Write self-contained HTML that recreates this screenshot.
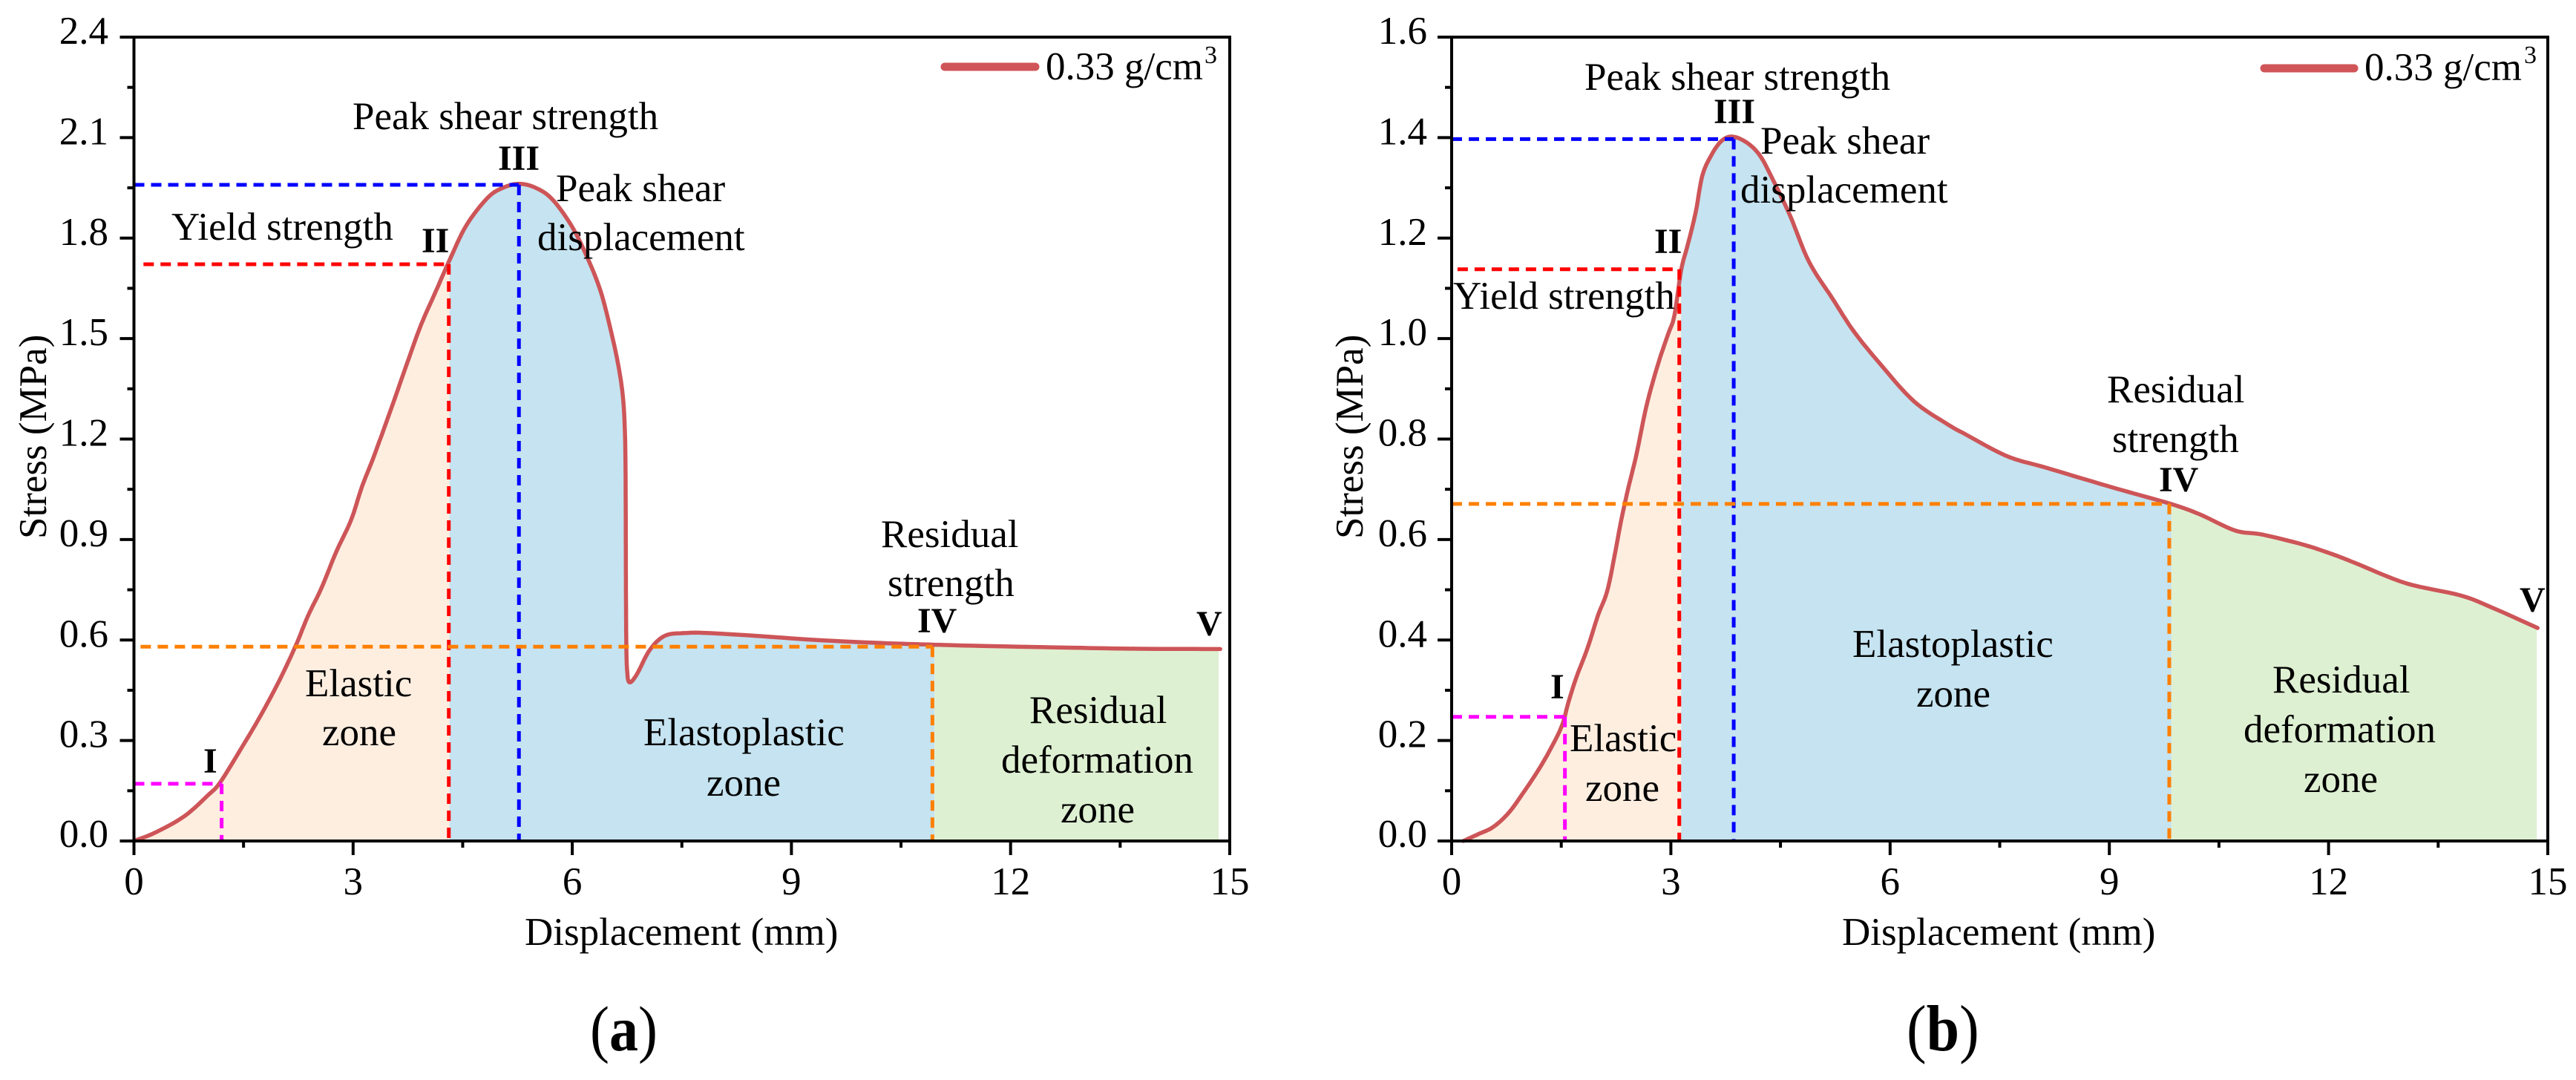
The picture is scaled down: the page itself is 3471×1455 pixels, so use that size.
<!DOCTYPE html>
<html lang="en">
<head>
<meta charset="utf-8">
<title>Stress-displacement curves</title>
<style>
html,body{margin:0;padding:0;background:#fff;}
svg{display:block;}
text{font-family:"Liberation Serif","Times New Roman",serif;fill:#000;font-size:53px;}
.num{font-weight:bold;font-size:48px;}
.sup{font-size:34px;}
</style>
</head>
<body>
<svg id="figure" width="3471" height="1455" viewBox="0 0 3471 1455">
<rect x="0" y="0" width="3471" height="1455" fill="#ffffff"/>
<g id="marks-a"></g>
<g id="marks-b"></g>

<g>
<text transform="translate(62,726) rotate(-90)">Stress (MPa)</text>
<text x="707" y="1273">Displacement (mm)</text>
<text x="475" y="174">Peak shear strength</text>
<text class="num" x="671" y="229">III</text>
<text x="749" y="271">Peak shear</text>
<text x="724" y="337">displacement</text>
<text x="231" y="323">Yield strength</text>
<text class="num" x="568" y="340">II</text>
<text class="num" x="274" y="1041">I</text>
<text x="411" y="938">Elastic</text>
<text x="434" y="1004">zone</text>
<text x="867" y="1004">Elastoplastic</text>
<text x="952" y="1072">zone</text>
<text x="1387" y="974">Residual</text>
<text x="1349" y="1041">deformation</text>
<text x="1429" y="1108">zone</text>
<text x="1187" y="737">Residual</text>
<text x="1196" y="803">strength</text>
<text class="num" x="1236" y="852">IV</text>
<text class="num" x="1612" y="856">V</text>
<line x1="1273" y1="90" x2="1395" y2="90" stroke="#d05558" stroke-width="11" stroke-linecap="round"/>
<text x="1409" y="107">0.33 g/cm</text>
<text class="sup" x="1623" y="85">3</text>
<text transform="translate(795,1415) scale(1,1.1)" style="font-size:78px">(<tspan font-weight="bold">a</tspan>)</text>
</g>

<g>
<text transform="translate(1836,726) rotate(-90)">Stress (MPa)</text>
<text x="2482" y="1273">Displacement (mm)</text>
<text x="2135" y="121">Peak shear strength</text>
<text class="num" x="2309" y="166">III</text>
<text x="2372" y="207">Peak shear</text>
<text x="2345" y="273">displacement</text>
<text class="num" x="2229" y="341">II</text>
<text x="1958" y="416">Yield strength</text>
<text class="num" x="2089" y="941">I</text>
<text x="2115" y="1012">Elastic</text>
<text x="2136" y="1079">zone</text>
<text x="2496" y="885">Elastoplastic</text>
<text x="2582" y="952">zone</text>
<text x="3062" y="933">Residual</text>
<text x="3023" y="1000">deformation</text>
<text x="3104" y="1067">zone</text>
<text x="2839" y="542">Residual</text>
<text x="2846" y="609">strength</text>
<text class="num" x="2909" y="662">IV</text>
<text class="num" x="3395" y="824">V</text>
<line x1="3051" y1="92" x2="3172" y2="92" stroke="#d05558" stroke-width="11" stroke-linecap="round"/>
<text x="3186" y="108">0.33 g/cm</text>
<text class="sup" x="3401" y="85">3</text>
<text transform="translate(2569,1415) scale(1,1.1)" style="font-size:80px">(<tspan font-weight="bold">b</tspan>)</text>
</g>
</svg>

<script>
// ---- Chart data ----
const dispA = [0,0.30,0.69,1.02,1.18,1.47,1.73,1.99,2.22,2.38,2.57,2.77,2.97,3.12,3.28,3.51,3.74,3.93,4.13,4.32,4.55,4.84,5.05,5.27,5.50,5.73,6.00,6.22,6.39,6.52,6.62,6.69,6.72,6.73,6.735,6.74,6.75,6.78,6.88,7.06,7.27,7.56,7.84,8.48,9.35,10.23,10.96,11.68,12.85,13.73,14.87];
const stressA = [0,0.026,0.074,0.138,0.175,0.277,0.373,0.479,0.586,0.671,0.757,0.864,0.957,1.057,1.146,1.284,1.427,1.541,1.640,1.734,1.838,1.920,1.950,1.962,1.950,1.915,1.833,1.735,1.640,1.531,1.432,1.333,1.225,1.077,0.746,0.586,0.512,0.474,0.496,0.570,0.613,0.621,0.621,0.613,0.600,0.591,0.586,0.582,0.577,0.574,0.573];

const dispB = [0.16,0.37,0.57,0.78,0.98,1.19,1.36,1.51,1.60,1.71,1.86,2.00,2.13,2.24,2.32,2.41,2.53,2.64,2.73,2.85,2.96,3.05,3.14,3.23,3.34,3.43,3.55,3.69,3.84,4.04,4.22,4.39,4.63,4.89,5.21,5.50,5.85,6.32,6.78,7.05,7.44,7.71,8.11,8.64,9.18,9.84,10.24,10.72,11.09,11.65,12.05,12.37,13.06,13.80,14.23,14.86];
const stressB = [0,0.014,0.028,0.056,0.096,0.142,0.185,0.230,0.277,0.327,0.384,0.448,0.498,0.576,0.638,0.698,0.770,0.849,0.902,0.961,1.008,1.047,1.136,1.186,1.252,1.324,1.364,1.393,1.402,1.390,1.364,1.318,1.245,1.153,1.080,1.015,0.952,0.876,0.830,0.808,0.777,0.760,0.744,0.721,0.698,0.671,0.650,0.618,0.610,0.590,0.571,0.553,0.513,0.489,0.465,0.424];

const xTickLabels = ['0','3','6','9','12','15'];
const yTickLabelsA = ['0.0','0.3','0.6','0.9','1.2','1.5','1.8','2.1','2.4'];
const yTickLabelsB = ['0.0','0.2','0.4','0.6','0.8','1.0','1.2','1.4','1.6'];

const zoneEdgesA = [0,4.32,10.96,14.85];
const zoneEdgesB = [0.16,3.14,9.85,14.85];
const zoneColors = ['#feeee0','#c5e3f0','#def0d2'];
const zoneNames = ['elastic-zone-fill','elastoplastic-zone-fill','residual-zone-fill'];

const refXA = [1.20,4.31,5.27,10.93];
const refYA = [0.171,1.722,1.959,0.580];
const refFromA = [0,0.13,0,0.09];
const refXB = [1.55,3.115,3.86,9.82];
const refYB = [0.247,1.138,1.397,0.671];
const refFromB = [0,0.08,0,0];
const refColors = ['#ff00ff','#ff0000','#0000ff','#ff8000'];
const refNames = ['point-i-guide','yield-guide','peak-guide','residual-guide'];

const SVGNS = 'http://www.w3.org/2000/svg';

function linearScale(d0,d1,p0,p1){
  return function(v){ return p0+(v-d0)/(d1-d0)*(p1-p0); };
}
// Smooth the read points with a Catmull-Rom spline in data space
function smoothCurve(xs,ys){
  const out=[];
  const n=xs.length;
  const steps=8;
  for(let i=0;i<n-1;i++){
    const i0=Math.max(i-1,0), i3=Math.min(i+2,n-1);
    for(let s=0;s<steps;s++){
      const t=s/steps, t2=t*t, t3=t2*t;
      const cr=function(a){
        return 0.5*((2*a[i])+(-a[i0]+a[i+1])*t+(2*a[i0]-5*a[i]+4*a[i+1]-a[i3])*t2+(-a[i0]+3*a[i]-3*a[i+1]+a[i3])*t3);
      };
      out.push([cr(xs),cr(ys)]);
    }
  }
  out.push([xs[n-1],ys[n-1]]);
  return out;
}
function curveAt(pts,x){
  if(x<=pts[0][0]) return pts[0][1];
  for(let i=1;i<pts.length;i++){
    if(x<=pts[i][0]){
      const t=(x-pts[i-1][0])/((pts[i][0]-pts[i-1][0])||1);
      return pts[i-1][1]+t*(pts[i][1]-pts[i-1][1]);
    }
  }
  return pts[pts.length-1][1];
}
function addLine(parent,x1,y1,x2,y2,color,width){
  const l=document.createElementNS(SVGNS,'line');
  l.setAttribute('x1',x1);
  l.setAttribute('y1',y1);
  l.setAttribute('x2',x2);
  l.setAttribute('y2',y2);
  l.setAttribute('stroke',color);
  l.setAttribute('stroke-width',width);
  parent.appendChild(l);
  return l;
}

function drawPanel(root,xs,ys,edges,refX,refY,refFrom,yLabels,px0,px1,labelRight){
  const pyBottom=1133, pyTop=50;
  const xMax=parseFloat(xTickLabels[xTickLabels.length-1]);
  const yMax=parseFloat(yLabels[yLabels.length-1]);
  const sx=linearScale(0,xMax,px0,px1);
  const sy=linearScale(0,yMax,pyBottom,pyTop);
  const dense=smoothCurve(xs,ys);

  // zone fills bounded by the curve
  for(let i=0;i<zoneColors.length;i++){
    const a=edges[i], b=edges[i+1];
    const pts=[[a,0],[a,curveAt(dense,a)]];
    for(let k=0;k<dense.length;k++){
      if(dense[k][0]>a && dense[k][0]<b) pts.push(dense[k]);
    }
    pts.push([b,curveAt(dense,b)]);
    pts.push([b,0]);
    const poly=document.createElementNS(SVGNS,'polygon');
    
    
    poly.setAttribute('points',pts.map(function(p){return sx(p[0]).toFixed(1)+','+sy(p[1]).toFixed(1);}).join(' '));
    poly.setAttribute('fill',zoneColors[i]);
    root.appendChild(poly);
  }

  // stress curve
  const curve=document.createElementNS(SVGNS,'polyline');
  
  
  curve.setAttribute('points',dense.map(function(p){return sx(p[0]).toFixed(1)+','+sy(p[1]).toFixed(1);}).join(' '));
  curve.setAttribute('fill','none');
  curve.setAttribute('stroke','#cd5558');
  curve.setAttribute('stroke-width','5.5');
  curve.setAttribute('stroke-linejoin','round');
  curve.setAttribute('stroke-linecap','round');
  root.appendChild(curve);

  // dashed guide lines
  for(let i=0;i<refX.length;i++){
    const h=addLine(root,sx(refFrom[i]),sy(refY[i]),sx(refX[i]),sy(refY[i]),refColors[i],5);
    
    
    h.setAttribute('stroke-dasharray','14 9');
    const v=addLine(root,sx(refX[i]),sy(refY[i]),sx(refX[i]),sy(0),refColors[i],5);
    
    
    v.setAttribute('stroke-dasharray','14 9');
  }

  // frame
  const frame=document.createElementNS(SVGNS,'rect');
  
  
  frame.setAttribute('x',px0);
  frame.setAttribute('y',pyTop);
  frame.setAttribute('width',px1-px0);
  frame.setAttribute('height',pyBottom-pyTop);
  frame.setAttribute('fill','none');
  frame.setAttribute('stroke','#000');
  frame.setAttribute('stroke-width','4');
  root.appendChild(frame);

  // x ticks
  for(let i=0;i<xTickLabels.length;i++){
    const v=parseFloat(xTickLabels[i]);
    const t=addLine(root,sx(v),pyBottom,sx(v),pyBottom+19,'#000',4);
    
    
    const lab=document.createElementNS(SVGNS,'text');
    
    
    lab.setAttribute('x',sx(v));
    lab.setAttribute('y',1205);
    lab.setAttribute('text-anchor','middle');
    lab.textContent=xTickLabels[i];
    root.appendChild(lab);
    if(i<xTickLabels.length-1){
      const mid=(v+parseFloat(xTickLabels[i+1]))/2;
      const m=addLine(root,sx(mid),pyBottom,sx(mid),pyBottom+9,'#000',4);
      
      
    }
  }

  // y ticks
  for(let i=0;i<yLabels.length;i++){
    const v=parseFloat(yLabels[i]);
    const t=addLine(root,px0-19,sy(v),px0,sy(v),'#000',4);
    
    
    const lab=document.createElementNS(SVGNS,'text');
    
    
    lab.setAttribute('x',labelRight);
    lab.setAttribute('y',sy(v)+(i===0?8:9));
    lab.setAttribute('text-anchor','end');
    lab.textContent=yLabels[i];
    root.appendChild(lab);
    if(i<yLabels.length-1){
      const mid=(v+parseFloat(yLabels[i+1]))/2;
      const m=addLine(root,px0-9,sy(mid),px0,sy(mid),'#000',4);
      
      
    }
  }
}

drawPanel(document.getElementById('marks-a'),dispA,stressA,zoneEdgesA,refXA,refYA,refFromA,yTickLabelsA,180.5,1657,146);
drawPanel(document.getElementById('marks-b'),dispB,stressB,zoneEdgesB,refXB,refYB,refFromB,yTickLabelsB,1956,3433,1923);
</script>
</body>
</html>
